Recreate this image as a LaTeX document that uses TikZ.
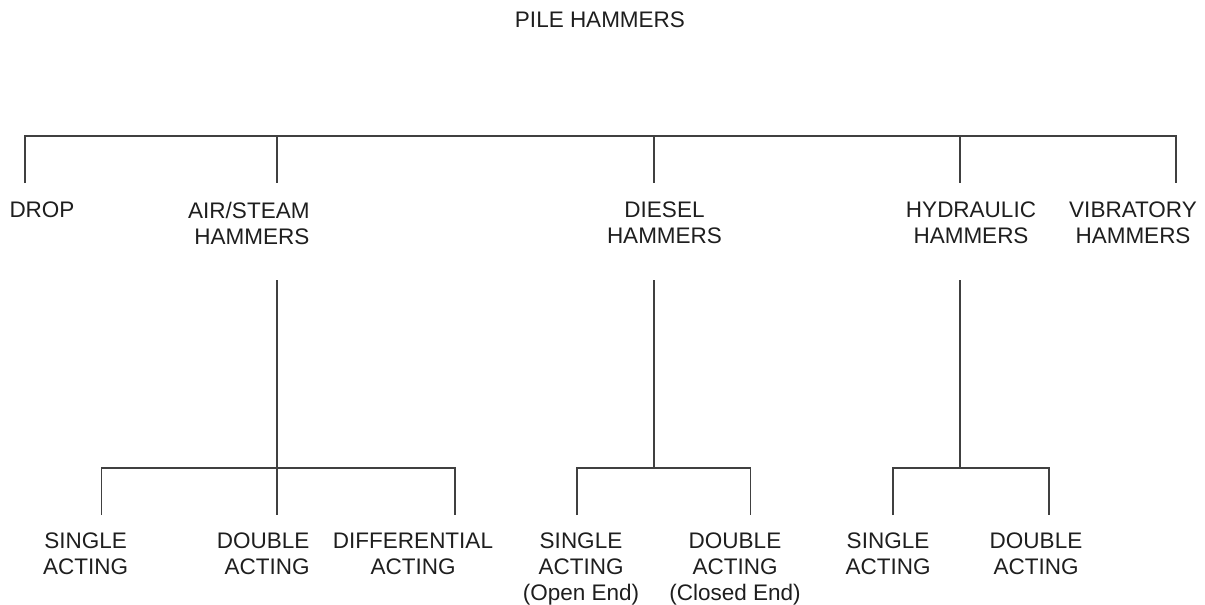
\documentclass[tikz,border=0pt]{standalone}
\usepackage{fontspec}
\setmainfont{Liberation Sans}
\definecolor{ink}{HTML}{1E1E1E}
\definecolor{wire}{HTML}{404040}
\begin{document}
\begin{tikzpicture}[x=1pt,y=-1pt,
  lbl/.style={inner sep=0pt,outer sep=0pt,text=ink,
    font=\fontsize{22.5}{26}\selectfont},
  ctr/.style={lbl,align=center,anchor=north},
  rgt/.style={lbl,align=right,anchor=north east},
  lft/.style={lbl,align=left,anchor=north west},
  tree/.style={draw=wire,line width=1.7pt,line cap=butt,line join=miter}]
\useasboundingbox (0,0) rectangle (1205,605);

% title
\node[ctr] (root) at (600,12) {PILE HAMMERS};

% first level
\node[lft] (drop)  at (9.5,202)  {DROP};
\node[rgt] (air)   at (309.5,202) {AIR/STEAM\\HAMMERS};
\node[ctr] (dsl)   at (664.5,202) {DIESEL\\HAMMERS};
\node[ctr] (hyd)   at (971,202)  {HYDRAULIC\\HAMMERS};
\node[ctr] (vib)   at (1133,202) {VIBRATORY\\HAMMERS};

% second level
\node[ctr] (airS)  at (85.7,533) {SINGLE\\ACTING};
\node[rgt] (airD)  at (309.5,533) {DOUBLE\\ACTING};
\node[ctr] (airF)  at (413,533)  {DIFFERENTIAL\\ACTING};
\node[ctr] (dslS)  at (581,533)  {SINGLE\\ACTING\\(Open End)};
\node[ctr] (dslD)  at (735,533)  {DOUBLE\\ACTING\\(Closed End)};
\node[ctr] (hydS)  at (888,533)  {SINGLE\\ACTING};
\node[ctr] (hydD)  at (1036,533) {DOUBLE\\ACTING};

% main bus and drops to the first level
\coordinate (busL) at (25,136);
\coordinate (busR) at (1176,136);
\coordinate (dropStub) at (25,183);
\coordinate (airStub)  at (277,183);
\coordinate (dslStub)  at (654,183);
\coordinate (hydStub)  at (960,183);
\coordinate (vibStub)  at (1176,183);
\draw[tree] (dropStub) -- (busL) -- (busR) -- (vibStub);
\draw[tree] (airStub |- busL) -- (airStub);
\draw[tree] (dslStub |- busL) -- (dslStub);
\draw[tree] (hydStub |- busL) -- (hydStub);

% air/steam branch
\coordinate (airUp) at (277,280);
\coordinate (airBus) at (277,468);
\coordinate (airSL) at (101.5,515);
\coordinate (airDL) at (277,515);
\coordinate (airFL) at (455,515);
\draw[tree] (airUp) -- (airDL);
\draw[tree] (airSL) -- (airSL |- airBus) -- (airFL |- airBus) -- (airFL);

% diesel branch
\coordinate (dslUp) at (654,280);
\coordinate (dslBus) at (654,468);
\coordinate (dslSL) at (577,515);
\coordinate (dslDL) at (750.5,515);
\draw[tree] (dslUp) -- (dslBus);
\draw[tree] (dslSL) -- (dslSL |- dslBus) -- (dslDL |- dslBus) -- (dslDL);

% hydraulic branch
\coordinate (hydUp) at (960,280);
\coordinate (hydBus) at (960,468);
\coordinate (hydSL) at (892.7,515);
\coordinate (hydDL) at (1049,515);
\draw[tree] (hydUp) -- (hydBus);
\draw[tree] (hydSL) -- (hydSL |- hydBus) -- (hydDL |- hydBus) -- (hydDL);
\end{tikzpicture}
\end{document}
